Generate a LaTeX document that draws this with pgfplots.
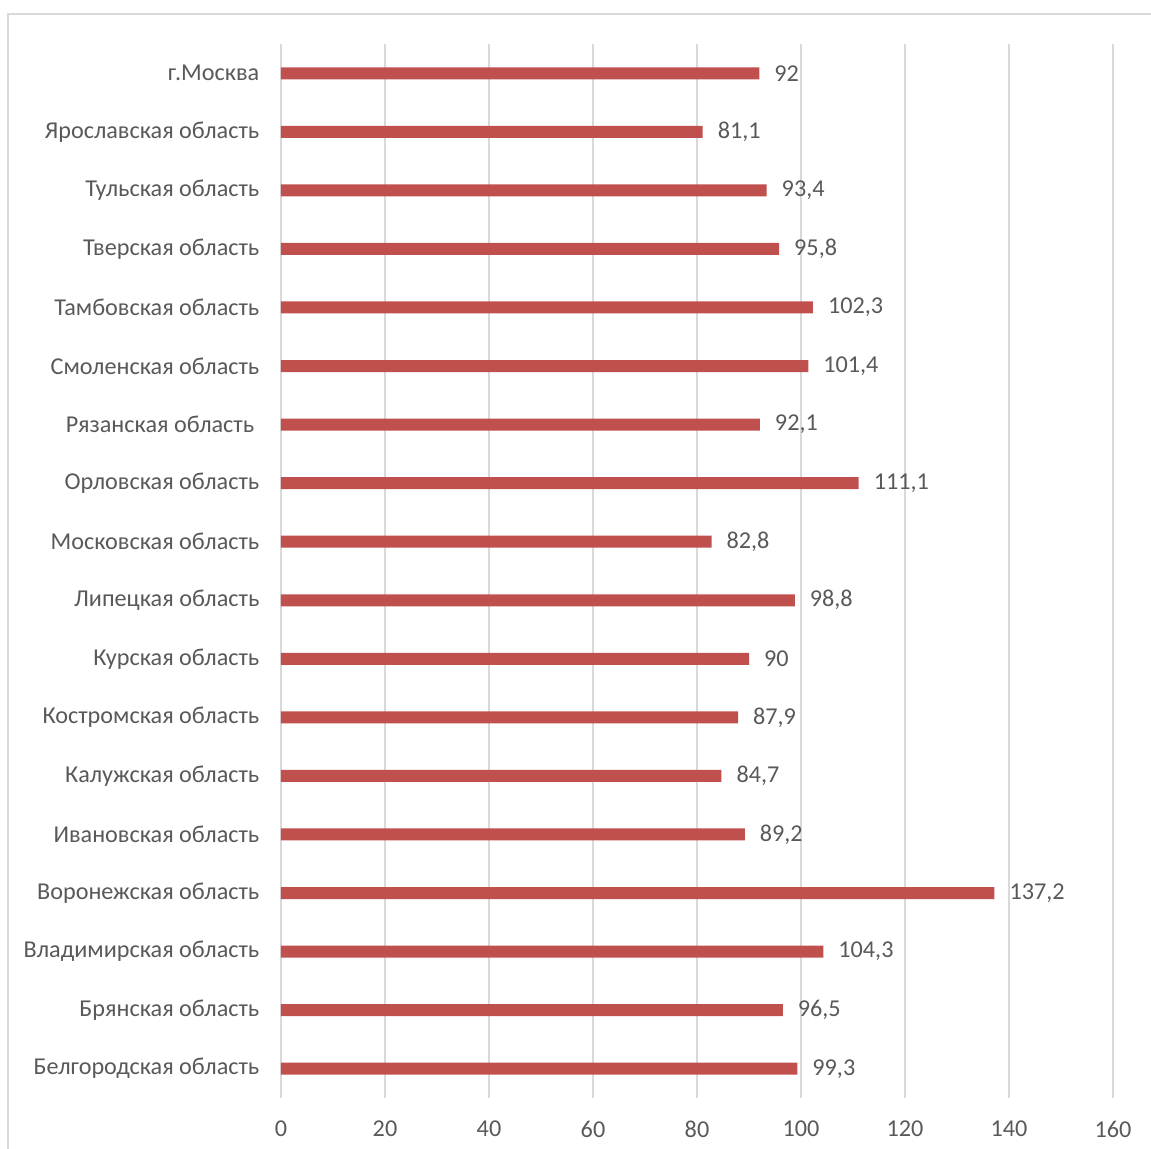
\documentclass[border=0pt]{standalone}
\usepackage{pgfplots}
\pgfplotsset{compat=1.18}
\usepackage{fontspec}
\setmainfont{Carlito}
\definecolor{barred}{HTML}{C0504D}
\definecolor{txt}{HTML}{595959}
\definecolor{gridc}{HTML}{D9D9D9}

\begin{document}
\begin{tikzpicture}
\begin{axis}[
  at={(0,0)}, anchor=south west,
  scale only axis, width=416pt, height=527pt,
  xmin=0, xmax=160, ymin=-0.5, ymax=17.5,
  xbar, bar width=6pt,
  axis line style={draw=none},
  xtick={0,20,...,160}, ytick={0,...,17},
  yticklabels={Белгородская область, Брянская область, Владимирская область,
    Воронежская область, Ивановская область, Калужская область,
    Костромская область, Курская область, Липецкая область,
    Московская область, Орловская область, Рязанская область\kern2.6pt,
    Смоленская область, Тамбовская область, Тверская область,
    Тульская область, Ярославская область, г.Москва},
  major tick length=0pt,
  xmajorgrids, grid style={gridc, line width=0.75pt},
  ticklabel style={font=\fontsize{12.1}{14}\selectfont, text=txt},
  yticklabel style={xshift=-7.3pt},
  xticklabel style={yshift=-8pt},
  /pgf/number format/assume math mode=true,
  /pgf/number format/use comma,
  nodes near coords,
  nodes near coords style={font=\fontsize{12.1}{14}\selectfont, text=txt, anchor=west, xshift=4pt},
]
\addplot[fill=barred, draw=none] coordinates {
  (99.3,0) (96.5,1) (104.3,2) (137.2,3) (89.2,4) (84.7,5)
  (87.9,6) (90,7) (98.8,8) (82.8,9) (111.1,10) (92.1,11)
  (101.4,12) (102.3,13) (95.8,14) (93.4,15) (81.1,16) (92,17)
};
\end{axis}
\draw[gridc, line width=0.75pt] (-136.5pt,-30pt) -- (-136.5pt,542pt) -- (440pt,542pt);
\pgfresetboundingbox
\useasboundingbox (-140.5pt,-25.5pt) rectangle (435pt,549pt);
\end{tikzpicture}
\end{document}
